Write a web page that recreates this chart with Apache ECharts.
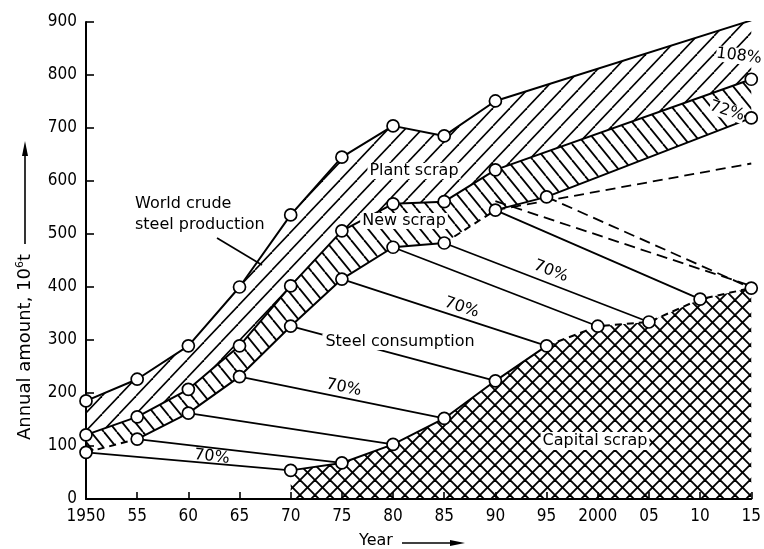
<!DOCTYPE html>
<html><head><meta charset="utf-8">
<script src="https://cdn.jsdelivr.net/npm/echarts@6/dist/echarts.min.js"></script>
<style>html,body{margin:0;padding:0;background:#fff}#c{width:764px;height:549px}</style>
</head><body><div id="c"></div>
<script>
// ---------- data ----------
const tickYears = [1950,1955,1960,1965,1970,1975,1980,1985,1990,1995,2000,2005,2010,2015];
const tickLabels = ['1950','55','60','65','70','75','80','85','90','95','2000','05','10','15'];
const prodYears = [1950,1955,1960,1965,1970,1975,1980,1985,1990,2015];
const crudeSteel = [185,226,289,400,536,645,704,685,751,903];
const lessPlantScrap = [121,155,207,289,402,506,557,561,621,792];
const consYears = [1950,1955,1960,1965,1970,1975,1980,1985,1990,1995,2015];
const steelConsumption = [88,113,162,231,326,415,475,483,545,570,719];
const capYears = [1970,1975,1980,1985,1990,1995,2000,2005,2010,2015];
const capitalScrap = [54,68,103,152,223,289,326,334,377,398];
const altYears = [1990,2015];
const altConsumption = [545,633];
const alt2Years = [1990,2015];
const alt2Scrap = [562,402];
const lifetime = 20;
const recoveryText = '70%';
const labelledStarts = [1955,1965,1975,1985];

// ---------- helpers ----------
const FONT = '"DejaVu Sans",sans-serif';
const TFONT = '"DejaVu Sans Condensed","DejaVu Sans",sans-serif';
const pairs = (xs, ys, a, b) => xs.slice(a, b).map((x, i) => [x, ys[a + i]]);
function makePattern(w, h, dirs, lw) {
  const c = document.createElement('canvas');
  c.width = w; c.height = h;
  const g = c.getContext('2d');
  g.strokeStyle = '#000'; g.lineWidth = lw;
  dirs.forEach(d => {
    for (const o of [-w, 0, w]) {
      g.beginPath();
      if (d === '/') { g.moveTo(o, h); g.lineTo(o + w, 0); }
      else { g.moveTo(o, 0); g.lineTo(o + w, h); }
      g.stroke();
    }
  });
  return { image: c, repeat: 'repeat' };
}
const plantPat = makePattern(17, 18, ['/'], 1.6);
const newPat = makePattern(13, 16, ['\\'], 1.8);
const capPat = makePattern(15, 15, ['/', '\\'], 1.9);

function areaSeries(topX, topY, botX, botY, pat) {
  return {
    type: 'custom', coordinateSystem: 'cartesian2d', z: 1, silent: true,
    data: [[topX[0], topY[0]]],
    renderItem: (params, api) => {
      const pts = topX.map((x, i) => api.coord([x, topY[i]]));
      for (let i = botX.length - 1; i >= 0; i--) pts.push(api.coord([botX[i], botY[i]]));
      return { type: 'polygon', shape: { points: pts }, style: { fill: pat, stroke: null } };
    }
  };
}
const lineS = (data, dashed, w) => ({
  type: 'line', data, showSymbol: false, silent: true, z: 3,
  lineStyle: { color: '#000', width: w || 2, type: dashed ? (Array.isArray(dashed) ? dashed : [8, 5]) : 'solid' }
});

const series = [];
series.push(areaSeries(prodYears, crudeSteel, prodYears, lessPlantScrap, plantPat));
series.push(areaSeries(prodYears, lessPlantScrap, consYears, steelConsumption, newPat));
series.push(areaSeries(capYears, capitalScrap, [capYears[0], capYears[capYears.length - 1]], [0, 0], capPat));

// 70% recovery links: consumption in year y -> capital scrap in y+lifetime
consYears.forEach((y, i) => {
  const j = capYears.indexOf(y + lifetime);
  if (j < 0) return;
  const d = [[y, steelConsumption[i]], [capYears[j], capitalScrap[j]]];
  series.push(lineS(d, y + lifetime > 2010 ? [11, 6] : false, 1.8));
});
series.push(lineS(pairs(altYears, altConsumption, 0, 2), [10, 6], 1.8));
series.push(lineS(pairs(alt2Years, alt2Scrap, 0, 2), [11, 6], 1.8));
// capital scrap boundary
series.push(lineS(pairs(capYears, capitalScrap, 0, 6), false));
series.push(lineS(pairs(capYears, capitalScrap, 5, 10), [7, 5]));
// steel consumption boundary
series.push(lineS(pairs(consYears, steelConsumption, 0, 2), [7, 5]));
series.push(lineS(pairs(consYears, steelConsumption, 1, 8), false));
series.push(lineS(pairs(consYears, steelConsumption, 7, 9), [7, 5]));
series.push(lineS(pairs(consYears, steelConsumption, 8, 11), false));
series.push(lineS(pairs(prodYears, lessPlantScrap, 0, 10), false));
series.push(lineS(pairs(prodYears, crudeSteel, 0, 10), false));
// circles
const pts = [].concat(
  pairs(prodYears, crudeSteel, 0, 10),
  pairs(prodYears, lessPlantScrap, 0, 10),
  pairs(consYears, steelConsumption, 0, 11),
  pairs(capYears, capitalScrap, 0, 10)
);
series.push({
  type: 'scatter', data: pts, symbol: 'circle', symbolSize: 12, z: 5, silent: true,
  itemStyle: { color: '#fff', borderColor: '#000', borderWidth: 1.7, opacity: 1 }
});

const chart = echarts.init(document.getElementById('c'), null, { renderer: 'canvas' });
const option = {
  animation: false,
  backgroundColor: '#fff',
  grid: { left: 86, right: 6, top: 22, bottom: 50, containLabel: false },
  xAxis: {
    type: 'value', min: 1950, max: 2015, interval: 5,
    axisLine: { lineStyle: { color: '#000', width: 2 } },
    axisTick: { inside: true, length: 7, lineStyle: { color: '#000', width: 1.6 } },
    splitLine: { show: false },
    axisLabel: {
      color: '#000', fontFamily: TFONT, fontSize: 17, margin: 9, showMaxLabel: true, hideOverlap: false,
      formatter: v => { const k = tickYears.indexOf(Math.round(v)); return k >= 0 ? tickLabels[k] : ''; }
    }
  },
  yAxis: {
    type: 'value', min: 0, max: 900, interval: 100,
    axisLine: { show: true, lineStyle: { color: '#000', width: 2 } },
    axisTick: { show: true, inside: true, length: 8, lineStyle: { color: '#000', width: 1.6 } },
    splitLine: { show: false },
    axisLabel: { color: '#000', fontFamily: TFONT, fontSize: 17, margin: 9 }
  },
  series
};
chart.setOption(option);

// ---------- annotations ----------
const px = (x, y) => chart.convertToPixel({ gridIndex: 0 }, [x, y]);
const txt = (text, x, y, opts) => Object.assign({
  type: 'text', x, y, z: 20,
  style: Object.assign({ text, fill: '#000', font: '16px ' + FONT, textAlign: 'center', textVerticalAlign: 'middle' }, (opts && opts.style) || {})
}, opts && opts.el);
const graphic = [];
const labelCfg = { 1955: [0.37, 9], 1965: [0.5, -10], 1975: [0.57, -10], 1985: [0.5, -12] };
labelledStarts.forEach(y => {
  const i = consYears.indexOf(y), j = capYears.indexOf(y + lifetime);
  const a = px(y, steelConsumption[i]), b = px(capYears[j], capitalScrap[j]);
  const [t, off] = labelCfg[y];
  const ang = Math.atan2(b[1] - a[1], b[0] - a[0]);
  const cx = a[0] + (b[0] - a[0]) * t - Math.sin(ang) * off;
  const cy = a[1] + (b[1] - a[1]) * t + Math.cos(ang) * off;
  graphic.push({ type: 'text', x: cx, y: cy, rotation: -ang, z: 20,
    style: { text: recoveryText, fill: '#000', font: '16px ' + FONT, textAlign: 'center', textVerticalAlign: 'middle' } });
});
graphic.push(txt('World crude', 135, 204, { style: { textAlign: 'left' } }));
graphic.push(txt('steel production', 135, 225, { style: { textAlign: 'left' } }));
graphic.push({ type: 'line', shape: { x1: 217, y1: 238, x2: 262, y2: 265 }, style: { stroke: '#000', lineWidth: 1.6 }, z: 20 });
graphic.push(txt('Plant scrap', 414, 171, { style: { backgroundColor: '#fff', padding: [0, 2] } }));
graphic.push(txt('New scrap', 404, 221, { style: { backgroundColor: '#fff', padding: [0, 2] } }));
graphic.push(txt('Steel consumption', 400, 342, { style: { backgroundColor: '#fff', padding: [0, 3] } }));
graphic.push(txt('Capital scrap', 595, 441, { style: { backgroundColor: '#fff', padding: [1, 2] } }));
graphic.push(txt('108%', 739, 56, { el: { rotation: -0.12 }, style: { backgroundColor: '#fff' } }));
graphic.push(txt('72%', 727, 111, { el: { rotation: -0.3 }, style: { backgroundColor: '#fff' } }));
// axis titles
graphic.push({ type: 'text', x: 25, y: 347, rotation: Math.PI / 2, z: 20,
  style: { text: 'Annual amount, 10{s|6}t', fill: '#000', font: '18px ' + FONT, textAlign: 'center', textVerticalAlign: 'middle',
    rich: { s: { fontSize: 11, verticalAlign: 'top', padding: [0, 0, 9, 0], fontFamily: FONT } } } });
graphic.push({ type: 'line', shape: { x1: 25, y1: 244, x2: 25, y2: 152 }, style: { stroke: '#000', lineWidth: 1.6 }, z: 20 });
graphic.push({ type: 'polygon', shape: { points: [[25, 141], [22, 156], [28, 156]] }, style: { fill: '#000' }, z: 20 });
graphic.push(txt('Year', 376, 541));
graphic.push({ type: 'line', shape: { x1: 402, y1: 543, x2: 454, y2: 543 }, style: { stroke: '#000', lineWidth: 1.6 }, z: 20 });
graphic.push({ type: 'polygon', shape: { points: [[465, 543], [450, 540], [450, 546]] }, style: { fill: '#000' }, z: 20 });
chart.setOption({ graphic });
</script></body></html>
